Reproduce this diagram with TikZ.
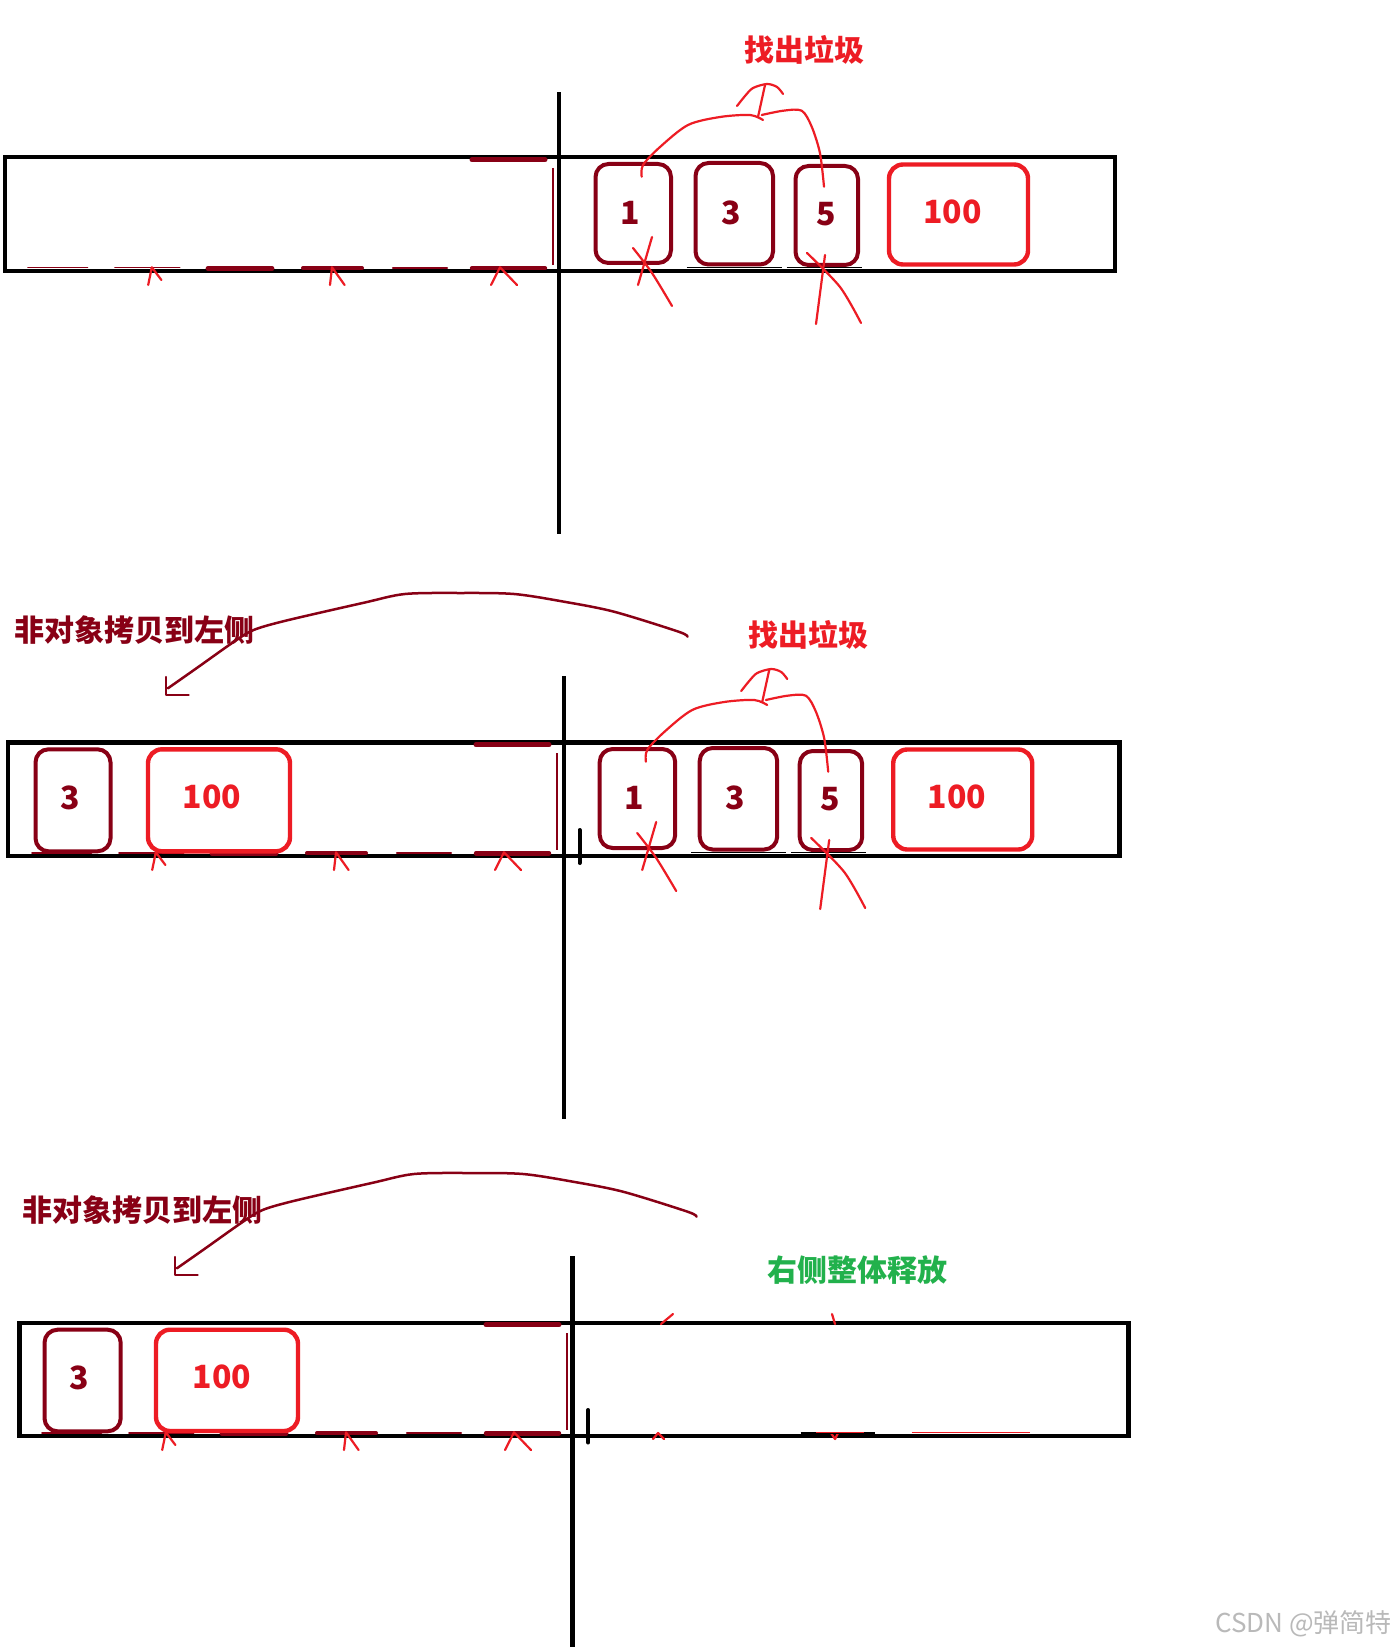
\documentclass[tikz,border=0pt]{standalone}
\usepackage{fontspec}
\newfontfamily\cjk{Noto Sans CJK SC}
\definecolor{dred}{HTML}{880015}
\definecolor{pred}{HTML}{ED1C24}
\definecolor{pgreen}{HTML}{22B14C}
\tikzset{
  frame/.style={draw=black, line width=2.2pt},
  vbar/.style={draw=black, line width=2.2pt},
  tickbar/.style={draw=black, line width=2pt, line cap=round},
  dbox/.style={draw=dred, line width=2pt, rounded corners=6.5pt, inner sep=0pt},
  rbox/.style={draw=pred, line width=2.2pt, rounded corners=7pt, inner sep=0pt},
  num/.style={font=\cjk\bfseries\fontsize{16}{16}\selectfont, inner sep=0pt},
  numd/.style={num, text=dred},
  numr/.style={num, text=pred},
  lbl/.style={font=\cjk\bfseries\fontsize{15}{15}\selectfont, inner sep=0pt},
  hand/.style={draw=pred, line width=1.1pt, line cap=round, line join=round},
  arcpen/.style={draw=dred, line width=1.25pt, line cap=round, line join=round},
  resid/.style={draw=dred, line cap=round}
}
\newcommand\mkbox[6]{\node[#6, minimum width={(#4-#2)*0.5pt}, minimum height={(#5-#3)*0.5pt}] (#1) at ({(#2+#4)/2},{(#3+#5)/2}) {};}
\newcommand\leftresid{%
  \draw[resid, line width=0.9pt] (28,267.6) -- (87.5,267.6);
  \draw[resid, line width=0.9pt] (115,267.6) -- (179.6,267.6);
  \draw[resid, line width=2.4pt] (208,268.4) -- (272,268.4);
  \draw[resid, line width=2pt] (303,268.1) -- (362,268.1);
  \draw[resid, line width=1.1pt] (393,267.7) -- (447,267.7);
  \draw[resid, line width=2.2pt] (472,268.3) -- (545,268.3);
  \draw[resid, line width=2.5pt] (472,159.8) -- (545,159.8);
  \draw[dred, line width=0.6pt] (553,168) -- (553,265);
  \draw[hand] (148.2,285) -- (151.8,267.3) -- (161.4,280);
  \draw[hand] (330,285) -- (332,267.3) -- (344.6,285);
  \draw[hand] (491,285) -- (500,267.3) -- (517,285);
}
\newcommand\rightpart[1]{%
  \mkbox{#1b1}{595.5}{164}{671}{263}{dbox}
  \mkbox{#1b3}{695.5}{163}{773}{264.5}{dbox}
  \mkbox{#1b5}{795.5}{166}{858}{265}{dbox}
  \mkbox{#1b100}{889}{164.5}{1028}{264.5}{rbox}
  \node[numd] (#1n1) at (630,213) {1};
  \node[numd] (#1n3) at (731,213) {3};
  \node[numd] (#1n5) at (826,214) {5};
  \node[numr] (#1n100) at (952.7,212) {100};
  \node[lbl, text=pred] (#1find) at (804,49.7) {找出垃圾};
  \draw[black, line width=0.6pt] (686.7,267.6) -- (781.7,267.6) (786.7,267.6) -- (861.7,267.6);
  \draw[hand] plot[smooth] coordinates {(641.7,176.7) (643,165) (660,147) (688,125) (720,117) (750,115) (763,120)};
  \draw[hand] (758,117) -- (765,85);
  \draw[hand] plot[smooth] coordinates {(737,106) (745,96) (753,88) (767,84) (777,87) (783,94)};
  \draw[hand] plot[smooth] coordinates {(761.7,115) (783.3,110.7) (801.7,110.7) (811.7,126.7) (820,153.3) (824,186.7)};
  \draw[hand] (652,237) -- (638,285);
  \draw[hand] plot[smooth] coordinates {(633,248) (652,273) (672,306)};
  \draw[hand] (825,255) -- (816,324);
  \draw[hand] plot[smooth] coordinates {(807,253) (840,287) (861,323)};
}
\newcommand\copyarc[1]{%
  \coordinate (#1s) at (687.5,636.7);
  \coordinate (#1e) at (167.9,688.3);
  \draw[arcpen] plot[smooth, tension=0.5] coordinates {(#1s) (678.6,631.7) (614,611.7) (564,601.7) (514,594) (460,593) (405,594) (364,602.7) (285.7,620.7) (253.6,630) (234,641.7) (196.4,668.3) (#1e)};
  \draw[arcpen] (166,677) -- (166,695) -- (188.6,695);
}
\begin{document}
\begin{tikzpicture}[x=0.5pt,y=-0.5pt]
\useasboundingbox (0,0) rectangle (1397,1647);
\fill[white] (0,0) rectangle (1397,1647);

% ---------- panel 1 ----------
\draw[frame] (5,157.3) rectangle (1115,271.3);
\draw[vbar] (559,92.4) -- (559,533.6);
\leftresid
\rightpart{pA}

% ---------- panel 2 ----------
\draw[frame] (8,742.3) rectangle (1119.4,856);
\draw[vbar] (564,676) -- (564,1118.7);
\draw[tickbar] (579.5,830) -- (579.5,863);
\begin{scope}[shift={(4,585)}]
  \leftresid
\end{scope}
\begin{scope}[shift={(4.2,585)}]
  \rightpart{pB}
\end{scope}
\mkbox{pBl3}{35.5}{749.3}{110.5}{851.3}{dbox}
\mkbox{pBl100}{148}{749.3}{290}{851.3}{rbox}
\node[numd] (pBm3) at (70,798.3) {3};
\node[numr] (pBm100) at (212,796.7) {100};
\node[lbl, text=dred] (pBcopy) at (134,630) {非对象拷贝到左侧};
\copyarc{pBa}

% ---------- panel 3 ----------
\draw[frame] (19.5,1322.7) rectangle (1128.3,1436);
\draw[vbar] (572.4,1256) -- (572.4,1647);
\draw[tickbar] (588.2,1410) -- (588.2,1442.5);
\begin{scope}[shift={(14,1165)}]
  \leftresid
\end{scope}
\mkbox{pCl3}{44.5}{1329.7}{120.7}{1431.3}{dbox}
\mkbox{pCl100}{156}{1329.7}{298}{1431}{rbox}
\node[numd] (pCm3) at (79.5,1378.3) {3};
\node[numr] (pCm100) at (221.9,1376.7) {100};
\node[lbl, text=dred] (pCcopy) at (142.9,1210) {非对象拷贝到左侧};
\begin{scope}[shift={(9,580)}]
  \copyarc{pCa}
\end{scope}
\node[lbl, text=pgreen] (pCfree) at (857,1270.5) {右侧整体释放};
\draw[hand] (661,1324) -- (673,1314);
\draw[hand] (832,1314) -- (835,1324);
\draw[hand] (653,1439) -- (658,1433) -- (664,1439);
\draw[hand] (831,1433) -- (835,1439) -- (838,1433);
\draw[black, line width=0.6pt] (800.7,1433) -- (875,1433);
\draw[pred, line width=0.6pt] (816,1432.5) -- (864,1432.5) (911.6,1432.5) -- (1030,1432.5);

% watermark
\node[font=\cjk\fontsize{13}{13}\selectfont, text=gray!55, inner sep=0pt] (wm) at (1303.6,1624) {CSDN @弹简特};
\end{tikzpicture}
\end{document}
